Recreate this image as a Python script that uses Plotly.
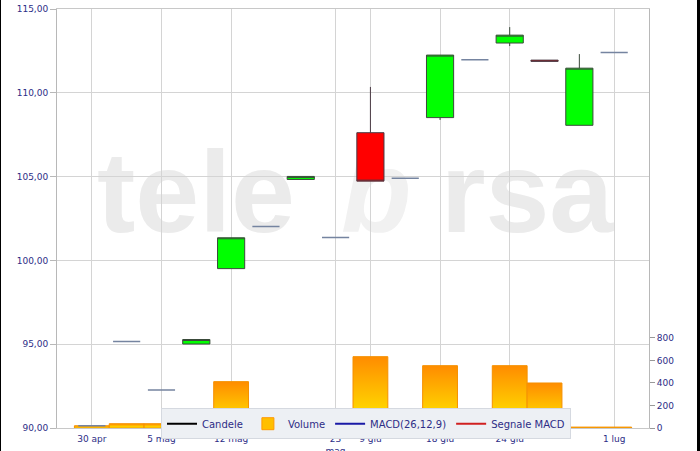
import plotly.graph_objects as go

# ---------------- data ----------------
x_idx = list(range(16))
tick_pos = [0, 2, 4, 7, 8, 10, 12, 15]
tick_labels = ["30 apr", "5 mag", "12 mag", "23<br>mag", "9 giu", "18 giu", "24 giu", "1 lug"]

open_ = [90.14, 95.16, 92.27, 95.01, 99.51, 102.02, 104.83, 101.37, 107.62, 104.90, 108.52, 111.97, 112.97, 111.95, 108.06, 112.41]
high  = [90.14, 95.16, 92.27, 95.28, 101.35, 102.02, 105.01, 101.37, 110.35, 104.90, 112.25, 111.97, 113.92, 111.95, 112.31, 112.41]
low   = [90.14, 95.16, 92.27, 95.01, 99.51, 102.02, 104.83, 101.37, 104.73, 104.90, 108.38, 111.97, 112.79, 111.88, 108.06, 112.41]
close = [90.14, 95.16, 92.27, 95.28, 101.35, 102.02, 105.01, 101.37, 104.73, 104.90, 112.25, 111.97, 113.44, 111.88, 111.47, 112.41]
volume = [20, 38, 38, 30, 412, 0, 154, 0, 634, 0, 554, 0, 554, 400, 8, 8]

vol_ticks = [0, 200, 400, 600, 800]
price_range = [90, 115]
vol_range = [0, 3724]

NAVY = "#2d2d86"
FONT = "DejaVu Sans"
PH = 419.0  # plot height in px
PW = 592.0  # plot width in px

fig = go.Figure()

# ---------------- volume (base axis, drawn below candles) ----------------
for i, v in zip(x_idx, volume):
    if v <= 0:
        continue
    fig.add_trace(go.Scatter(
        x=[i - 0.5, i - 0.5, i + 0.5, i + 0.5, i - 0.5],
        y=[0, v, v, 0, 0],
        mode="lines", line=dict(color="#f59000", width=1),
        fill="toself",
        fillgradient=dict(type="vertical", colorscale=[[0, "#ffee00"], [1, "#ff8c00"]]),
        showlegend=False, hoverinfo="skip", yaxis="y"))

# ---------------- candles ----------------
doji = [o == c for o, c in zip(open_, close)]
def pick(arr, mask):
    return [a for a, m in zip(arr, mask) if m]
body = [not d for d in doji]

fig.add_trace(go.Candlestick(
    x=pick(x_idx, body), open=pick(open_, body), high=pick(high, body),
    low=pick(low, body), close=pick(close, body),
    increasing=dict(fillcolor="#00ff00", line=dict(color="#3a4a3a", width=1)),
    decreasing=dict(fillcolor="#ff0000", line=dict(color="#4a3a44", width=1)),
    showlegend=False, yaxis="y2"))
fig.add_trace(go.Candlestick(
    x=pick(x_idx, doji), open=pick(open_, doji), high=pick(high, doji),
    low=pick(low, doji), close=pick(close, doji),
    increasing=dict(fillcolor="#7584a0", line=dict(color="#7584a0", width=1.5)),
    decreasing=dict(fillcolor="#7584a0", line=dict(color="#7584a0", width=1.5)),
    showlegend=False, yaxis="y2"))

# ---------------- legend entries ----------------
fig.add_trace(go.Scatter(x=[None], y=[None], mode="lines", name="Candele",
                         line=dict(color="black", width=2), yaxis="y2", legendrank=1))
fig.add_trace(go.Bar(x=[None], y=[None], name="Volume", yaxis="y",
                     marker=dict(color="#ffbf00", line=dict(color="#ff9900", width=1)), legendrank=2))
fig.add_trace(go.Scatter(x=[None], y=[None], mode="lines", name="MACD(26,12,9)",
                         line=dict(color="#1a1aa6", width=2), yaxis="y2", legendrank=3))
fig.add_trace(go.Scatter(x=[None], y=[None], mode="lines", name="Segnale MACD",
                         line=dict(color="#d02020", width=2), yaxis="y2", legendrank=4))

# ---------------- watermark (shape labels, drawn below the traces) ----------------
def wm_shape(cx, text, color="#ebebeb", size=115):
    cy = (428.3 - 181) / PH
    return dict(type="rect", xref="paper", yref="paper", layer="below",
                x0=(cx - 120 - 57) / PW, x1=(cx + 120 - 57) / PW,
                y0=cy - 80 / PH, y1=cy + 80 / PH,
                line=dict(width=0), fillcolor="rgba(0,0,0,0)",
                label=dict(text=text, textposition="middle center",
                           font=dict(family="Liberation Sans", size=size, color=color)))

shapes = [
    wm_shape(196, "<b>tele</b>"),
    wm_shape(376, "<b><i>b</i></b>", color="#f1f1f1"),
    wm_shape(527, "<b>rsa</b>"),
    # thin dark frame strips at the picture edges
    dict(type="rect", xref="paper", yref="paper", x0=(697 - 57) / PW, x1=(701 - 57) / PW,
         y0=-24 / PH, y1=443 / PH, fillcolor="black", line=dict(width=0)),
    dict(type="rect", xref="paper", yref="paper", x0=-58 / PW, x1=-56 / PW,
         y0=-24 / PH, y1=443 / PH, fillcolor="black", line=dict(width=0)),
]

fig.update_layout(
    width=700, height=451,
    margin=dict(l=57, r=51, t=9, b=23, pad=0, autoexpand=False),
    paper_bgcolor="white", plot_bgcolor="rgba(0,0,0,0)",
    separators=",.",
    font=dict(family=FONT, size=9, color=NAVY),
    boxgap=0.22, boxgroupgap=0,
    showlegend=True,
    legend=dict(orientation="h", x=(161 - 57) / PW, y=(428.3 - 424) / PH,
                xanchor="left", yanchor="middle",
                bgcolor="#edf0f4", bordercolor="#d5d9e0", borderwidth=1,
                font=dict(family=FONT, size=10, color=NAVY), traceorder="normal"),
    xaxis=dict(range=[-1, 16], tickmode="array", tickvals=tick_pos, ticktext=tick_labels,
               showgrid=True, gridcolor="#d4d4d4", gridwidth=1, zeroline=False,
               showline=True, mirror=True, linecolor="#c8c8c8", automargin=False,
               ticks="", ticklabelstandoff=2, ticklabeloverflow="allow",
               rangeslider=dict(visible=False),
               tickfont=dict(family=FONT, size=9, color=NAVY)),
    yaxis=dict(range=vol_range, side="right", tickmode="array", tickvals=vol_ticks,
               showgrid=False, zeroline=False, ticks="outside", ticklen=5, automargin=False,
               tickcolor="#999999", tickfont=dict(family=FONT, size=9, color=NAVY)),
    yaxis2=dict(range=price_range, overlaying="y", side="left", dtick=5, tickformat=".2f",
                showgrid=True, gridcolor="#d4d4d4", zeroline=False, automargin=False,
                showline=True, mirror=True, linecolor="#b8b8b8",
                ticks="outside", ticklen=6, tickcolor="#b8b8b8", ticklabeloverflow="allow",
                tickfont=dict(family=FONT, size=9, color=NAVY)),
    shapes=shapes,
)

fig.write_html("out.html", config={"displayModeBar": False},
               post_script="document.body.style.margin='0';")
